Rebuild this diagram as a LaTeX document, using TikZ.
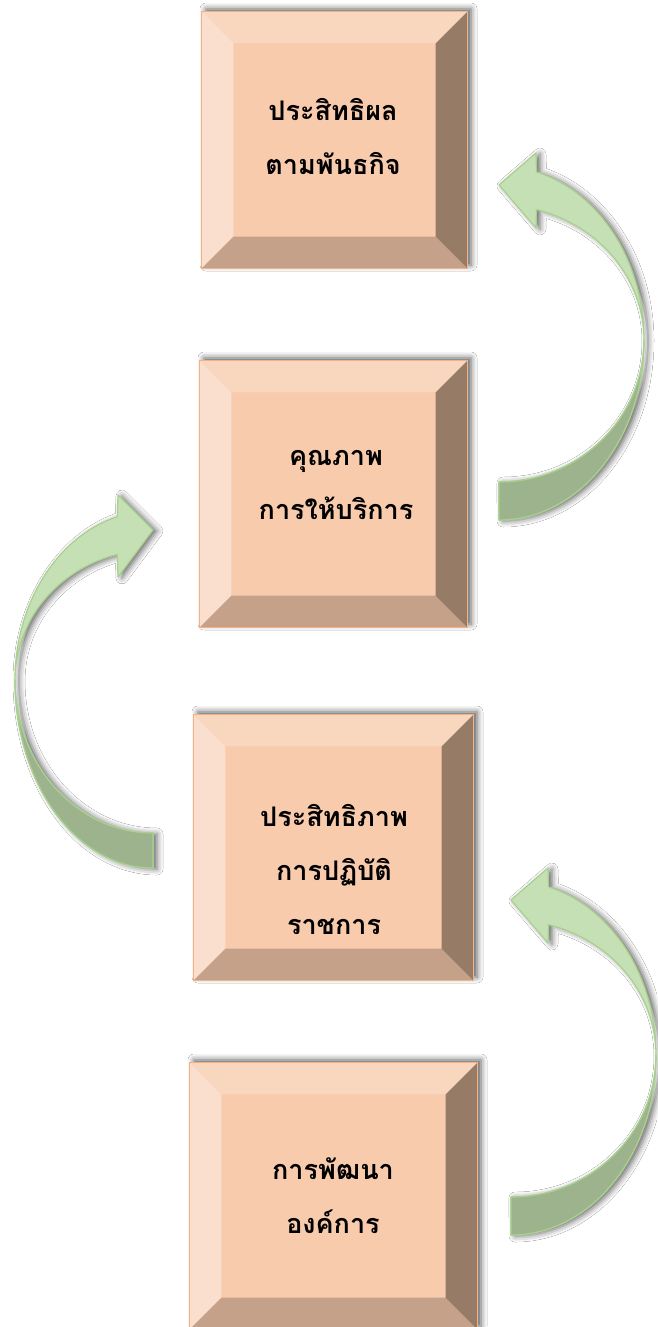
\documentclass[tikz,border=0pt]{standalone}
\usepackage{fontspec}
\newfontfamily\thaifont[Script=Thai]{Loma}
\usetikzlibrary{calc,shadows.blur}
\definecolor{face}{HTML}{F8CBAD}
\definecolor{bevtopc}{HTML}{F9D6BE}
\definecolor{bevleftc}{HTML}{FADFCE}
\definecolor{bevbotc}{HTML}{C6A18A}
\definecolor{bevrightc}{HTML}{967B66}
\definecolor{boxline}{HTML}{F4B183}
\definecolor{arrfront}{HTML}{C5E0B4}
\definecolor{arrback}{HTML}{9DB38D}
\definecolor{arrline}{HTML}{A9D18E}
\tikzset{
  bevbox/.style={rectangle, fill=face, draw=boxline, line width=1.2pt, inner sep=0pt,
    blur shadow={shadow xshift=4pt, shadow yshift=3pt, shadow blur radius=6pt, shadow opacity=65}},
  lbl/.style={align=center, text=black, inner sep=0pt,
    font=\thaifont\bfseries\fontsize{27}{54}\selectfont},
  arrbody/.style={fill=arrfront, draw=arrline, line width=1.2pt, line join=round,
    blur shadow={shadow xshift=4pt, shadow yshift=-1pt, shadow blur radius=6pt, shadow opacity=60}},
  arrbackpart/.style={fill=arrback, draw=arrline, line width=1.2pt, line join=round},
}
\newcommand\bevelof[1]{%
  \fill[bevtopc] (#1.north west) -- (#1.north east) -- ($(#1.north east)+(-32,32)$) -- ($(#1.north west)+(32,32)$) -- cycle;
  \fill[bevleftc] (#1.north west) -- ($(#1.north west)+(32,32)$) -- ($(#1.south west)+(32,-32)$) -- (#1.south west) -- cycle;
  \fill[bevbotc] (#1.south west) -- ($(#1.south west)+(32,-32)$) -- ($(#1.south east)+(-32,-32)$) -- (#1.south east) -- cycle;
  \fill[bevrightc] (#1.north east) -- ($(#1.north east)+(-32,32)$) -- ($(#1.south east)+(-32,-32)$) -- (#1.south east) -- cycle;
  \draw[boxline, line width=1.2pt] (#1.north west) rectangle (#1.south east);
}
% right-side curved arrow, #1 #2 = centre of the ellipse
\newcommand\rightarr[2]{%
  \path[arrbody] (#1,#2+180) arc[start angle=90,end angle=0,x radius=145,y radius=180]
    arc[start angle=0,end angle=-75,x radius=145,y radius=174]
    -- (#1+37,#2-187) -- (#1,#2-155) -- (#1+37,#2-112) -- (#1+37.5,#2-130.4)
    arc[start angle=-75,end angle=0,x radius=145,y radius=135]
    arc[start angle=0,end angle=90,x radius=145,y radius=142] -- cycle;
  \path[arrbackpart] (#1,#2+180) arc[start angle=90,end angle=0,x radius=145,y radius=180]
    arc[start angle=0,end angle=90,x radius=145,y radius=142] -- cycle;
}
% left-side curved arrow
\newcommand\leftarr[2]{%
  \path[arrbody] (#1,#2+188) arc[start angle=90,end angle=180,x radius=138,y radius=188]
    arc[start angle=180,end angle=255,x radius=138,y radius=169]
    -- (#1-35,#2-185) -- (#1,#2-150) -- (#1-35,#2-103) -- (#1-35.7,#2-125.6)
    arc[start angle=255,end angle=180,x radius=138,y radius=130]
    arc[start angle=180,end angle=90,x radius=138,y radius=153] -- cycle;
  \path[arrbackpart] (#1,#2+188) arc[start angle=90,end angle=180,x radius=138,y radius=188]
    arc[start angle=180,end angle=90,x radius=138,y radius=153] -- cycle;
}
\begin{document}
\begin{tikzpicture}[x=1pt,y=-1pt]
\fill[white] (0,0) rectangle (657,1327);
\useasboundingbox (0,0) rectangle (657,1327);

\node[bevbox, minimum width=265pt, minimum height=256pt] (b1) at (334.5,140) {};
\bevelof{b1}
\node[bevbox, minimum width=267pt, minimum height=266pt] (b2) at (333.5,494) {};
\bevelof{b2}
\node[bevbox, minimum width=279pt, minimum height=265pt] (b3) at (333.5,847.5) {};
\bevelof{b3}
\node[bevbox, minimum width=287pt, minimum height=266pt] (b4) at (333.5,1196) {};
\bevelof{b4}

\node[lbl] (t1) at (333,136) {ประสิทธิผล\\ตามพันธกิจ};
\node[lbl] (t2) at (336,485) {คุณภาพ\\การให้บริการ};
\node[lbl] (t3) at (334,869) {ประสิทธิภาพ\\การปฏิบัติ\\ราชการ};
\node[lbl] (t4) at (333,1196) {การพัฒนา\\องค์การ};

\rightarr{499}{340}
\leftarr{153}{680}
\rightarr{511}{1055}
\end{tikzpicture}
\end{document}
